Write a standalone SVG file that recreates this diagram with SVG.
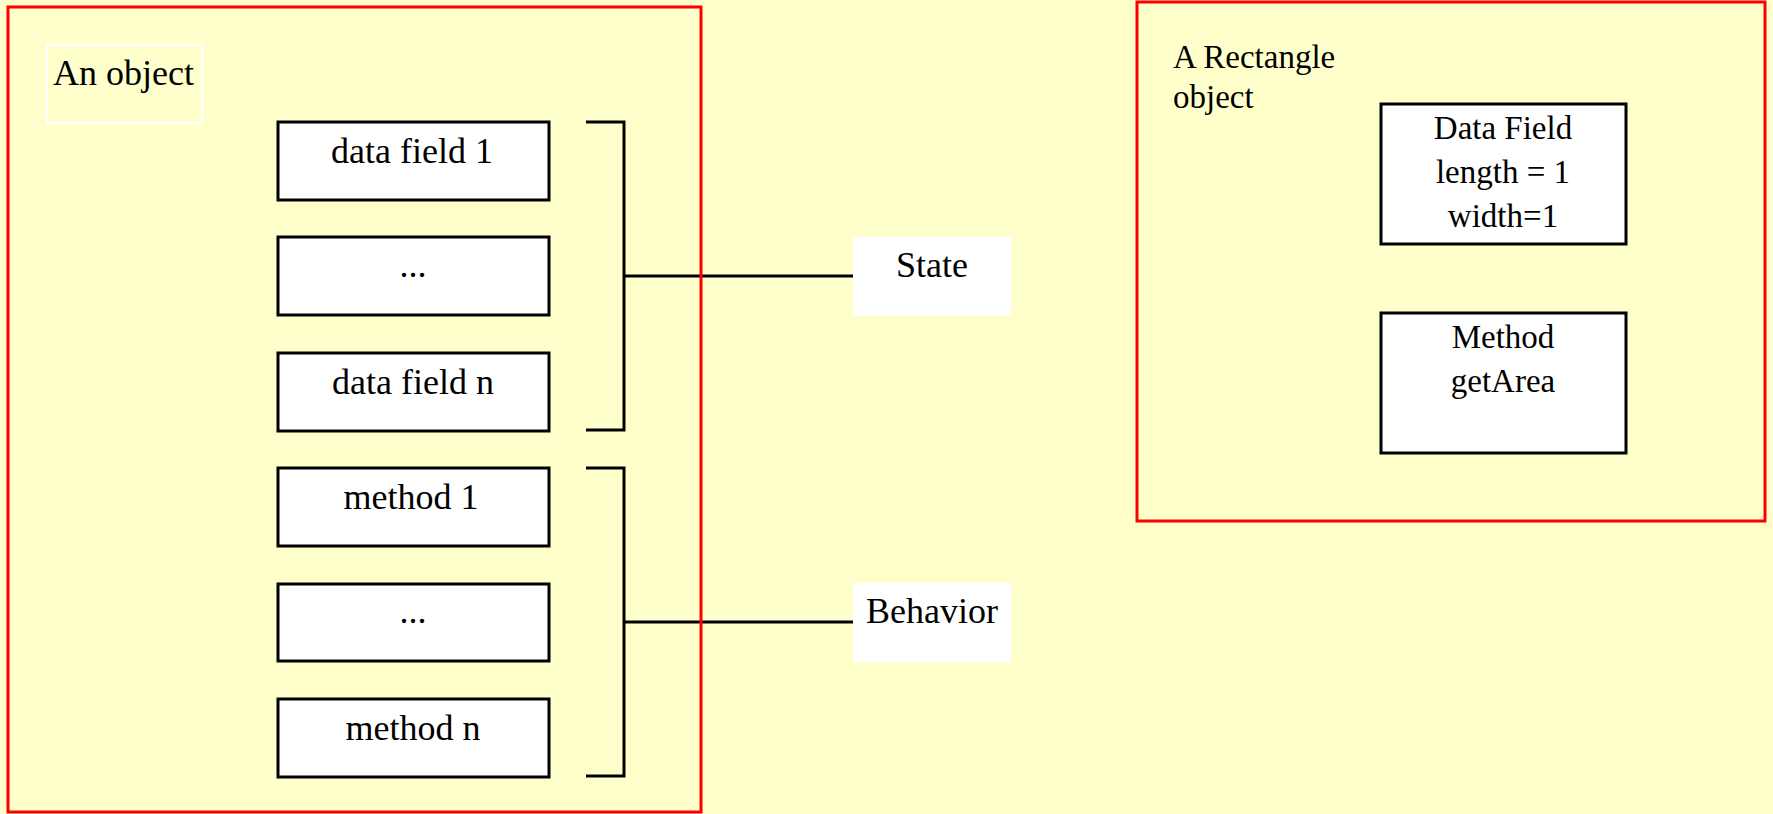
<svg xmlns="http://www.w3.org/2000/svg" width="1773" height="814" viewBox="0 0 1773 814">
  <style>
    text { font-family: "Liberation Serif", "Times New Roman", serif; fill: #000; }
    .frame { fill: none; stroke: #FF0000; stroke-width: 3; }
    .box { fill: #FFFFFF; stroke: #000; stroke-width: 3; }
    .label { fill: #FFFFFF; stroke: none; }
    .conn { fill: none; stroke: #000; stroke-width: 3; }
    .big { font-size: 36px; }
    .mid { font-size: 33px; }
  </style>

  <!-- page background -->
  <rect x="0" y="0" width="1773" height="814" fill="#FFFFCC"/>

  <!-- brackets and leader lines -->
  <g id="connectors">
    <polyline class="conn" points="586,122 624,122 624,430 586,430"/>
    <line class="conn" x1="624" y1="276" x2="853" y2="276"/>
    <polyline class="conn" points="586,468 624,468 624,776 586,776"/>
    <line class="conn" x1="624" y1="622" x2="853" y2="622"/>
  </g>

  <!-- generic object -->
  <g id="an-object">
    <rect class="frame" x="8" y="7" width="693" height="805"/>
    <rect x="47" y="45" width="155" height="78" fill="none" stroke="#FFFFFF" stroke-width="2"/>
    <text class="big" x="53" y="85">An object</text>
  </g>

  <g id="data-field-1">
    <rect class="box" x="278" y="122" width="271" height="78"/>
    <text class="big" x="412" y="163" text-anchor="middle">data field 1</text>
  </g>
  <g id="data-field-more">
    <rect class="box" x="278" y="237" width="271" height="78"/>
    <text class="big" x="413" y="277" text-anchor="middle">...</text>
  </g>
  <g id="data-field-n">
    <rect class="box" x="278" y="353" width="271" height="78"/>
    <text class="big" x="413" y="394" text-anchor="middle">data field n</text>
  </g>
  <g id="method-1">
    <rect class="box" x="278" y="468" width="271" height="78"/>
    <text class="big" x="411" y="509" text-anchor="middle">method 1</text>
  </g>
  <g id="method-more">
    <rect class="box" x="278" y="584" width="271" height="77"/>
    <text class="big" x="413" y="623" text-anchor="middle">...</text>
  </g>
  <g id="method-n">
    <rect class="box" x="278" y="699" width="271" height="78"/>
    <text class="big" x="413" y="740" text-anchor="middle">method n</text>
  </g>

  <g id="state">
    <rect class="label" x="853" y="237" width="158" height="79"/>
    <text class="big" x="932" y="277" text-anchor="middle">State</text>
  </g>
  <g id="behavior">
    <rect class="label" x="853" y="583" width="158" height="79"/>
    <text class="big" x="932" y="623" text-anchor="middle">Behavior</text>
  </g>

  <!-- concrete Rectangle object -->
  <g id="rectangle-object">
    <rect class="frame" x="1137" y="2" width="628" height="519"/>
    <text class="mid" x="1173" y="68">A Rectangle</text>
    <text class="mid" x="1173" y="108">object</text>
  </g>
  <g id="rect-data-field">
    <rect class="box" x="1381" y="104" width="245" height="140"/>
    <text class="mid" x="1503" y="139" text-anchor="middle">Data Field</text>
    <text class="mid" x="1503" y="183" text-anchor="middle">length = 1</text>
    <text class="mid" x="1503" y="227" text-anchor="middle">width=1</text>
  </g>
  <g id="rect-method">
    <rect class="box" x="1381" y="313" width="245" height="140"/>
    <text class="mid" x="1503" y="348" text-anchor="middle">Method</text>
    <text class="mid" x="1503" y="392" text-anchor="middle">getArea</text>
  </g>
</svg>
